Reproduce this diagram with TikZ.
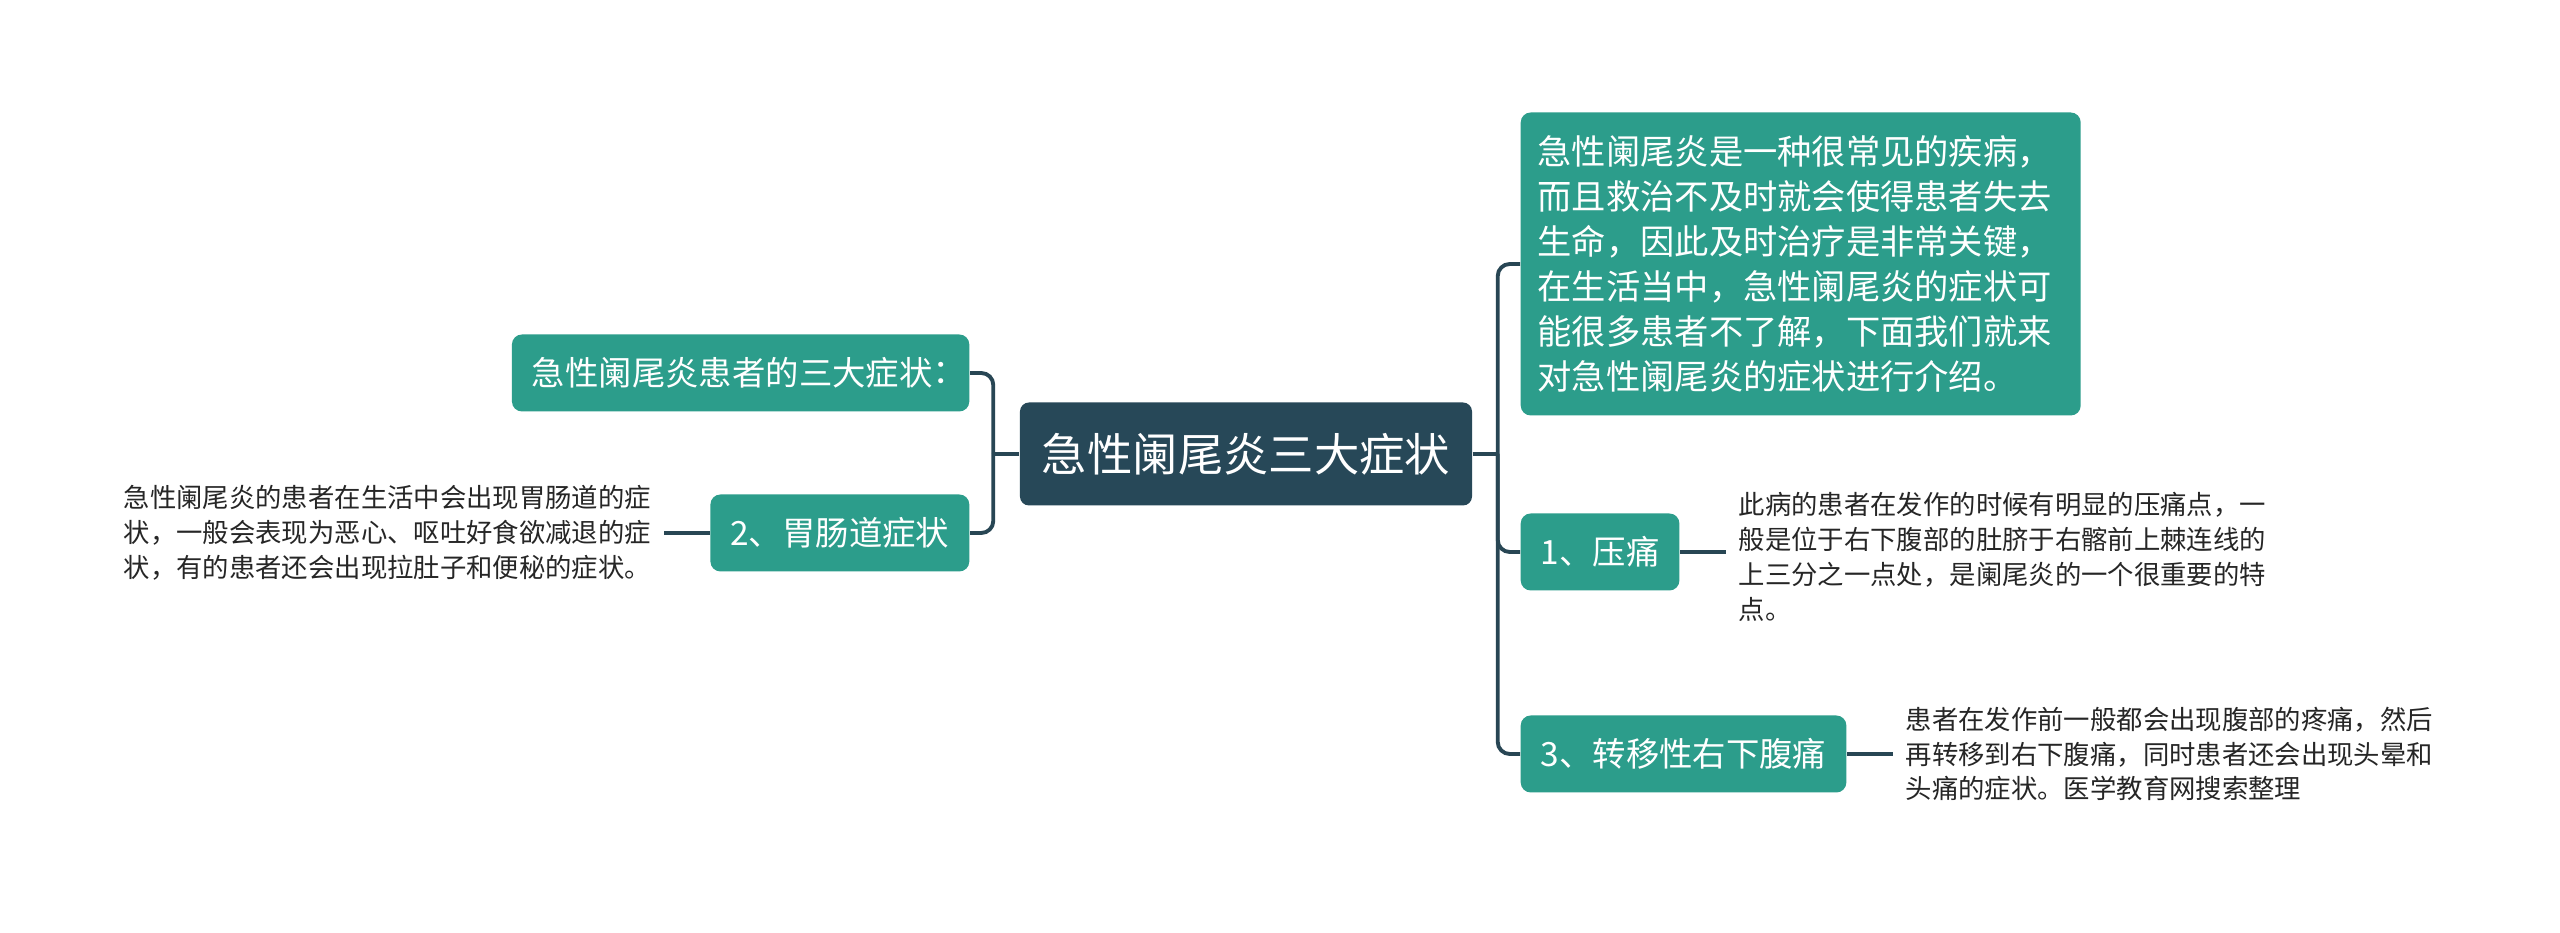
\documentclass[tikz,border=0pt]{standalone}
\usepackage{fontspec}
\setmainfont{Noto Sans CJK SC}
\newfontfamily\tcfont{Noto Sans CJK TC}
\usetikzlibrary{positioning}
\definecolor{rootbg}{RGB}{39,72,88}
\definecolor{boxbg}{RGB}{44,157,139}
\definecolor{linec}{RGB}{40,70,84}

\begin{document}
\begin{tikzpicture}[
        root/.style = {draw=none, fill=rootbg, rounded corners=0.09cm, text=white, inner xsep=0.22cm, minimum height=1.03cm, font=\fontsize{12.9}{16}\selectfont},
        box/.style  = {draw=none, fill=boxbg, rounded corners=0.1cm, text=white, inner xsep=0.2cm, minimum height=0.77cm, font=\fontsize{9.5}{12}\selectfont},
        leaf/.style = {inner sep=0pt, align=left, text=black!85, font=\fontsize{7.5}{9.9}\selectfont},
        conn/.style = {draw=linec, line width=1.1pt, rounded corners=0.12cm},
        tip/.style  = {draw=linec, line width=1.1pt, shorten >=0.12cm}
    ]
        \path[fill=white] (0,0) rectangle (25.6,9.33);

        \node[root] (root) at (12.46,4.79) {急性阑尾炎三大症状};
        \coordinate (rj) at ([xshift=0.25cm]root.east);
        \coordinate (lj) at ([xshift=-0.26cm]root.west);

        % right side
        \node[box, anchor=west, align=left, text width=5.26cm, inner xsep=0.17cm, minimum height=3.03cm,
              font=\fontsize{9.75}{12.8}\selectfont] (desc) at (15.20,6.69)
            {急性阑尾炎是一种很常见的疾病，\\而且救治不及时就会使得患者失去\\生命，因此及时治疗是非常关键，\\在生活当中，急性阑尾炎的症状可\\能很多患者不了解，下面我们就来\\对急性阑尾炎的症状进行介绍。};
        \node[box, anchor=west] (p1) at (15.20,3.81) {1、压痛};
        \node[box, anchor=west] (p3) at (15.20,1.79) {3、转移性右下腹痛};

        % left side
        \node[box, anchor=east] (intro) at (9.70,5.60) {急性阑尾炎患者的三大症状\makebox[0.5em]{\tcfont ：}};
        \node[box, anchor=east] (p2)    at (9.70,4.00) {2、胃肠道症状};

        % leaf texts
        \node[leaf, right=0.58cm of p1, yshift=-0.05cm] (t1)
            {此病的患者在发作的时候有明显的压痛点，一\\般是位于右下腹部的肚脐于右髂前上棘连线的\\上三分之一点处，是阑尾炎的一个很重要的特\\点。};
        \node[leaf, right=0.58cm of p3] (t3)
            {患者在发作前一般都会出现腹部的疼痛，然后\\再转移到右下腹痛，同时患者还会出现头晕和\\头痛的症状。医学教育网搜索整理};
        \node[leaf, left=0.58cm of p2] (t2)
            {急性阑尾炎的患者在生活中会出现胃肠道的症\\状，一般会表现为恶心、呕吐好食欲减退的症\\状，有的患者还会出现拉肚子和便秘的症状。};

        % connectors
        \draw[conn] (root.east) -- (rj);
        \draw[conn] (rj) |- (desc.west);
        \draw[conn] (rj) |- (p1.west);
        \draw[conn] (rj) |- (p3.west);
        \draw[conn] (root.west) -- (lj);
        \draw[conn] (lj) |- (intro.east);
        \draw[conn] (lj) |- (p2.east);

        \draw[tip] (p1.east) -- (p1.east -| t1.west);
        \draw[tip] (p3.east) -- (p3.east -| t3.west);
        \draw[tip] (p2.west) -- (p2.west -| t2.east);
    \end{tikzpicture}
\end{document}
